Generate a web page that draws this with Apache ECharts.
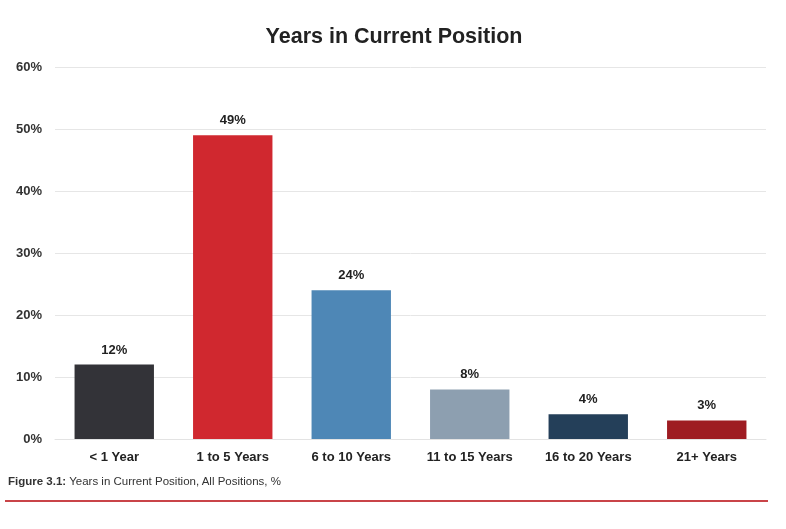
<!DOCTYPE html>
<html><head><meta charset="utf-8">
<script src="https://cdn.jsdelivr.net/npm/echarts@6/dist/echarts.min.js"></script>
<style>
html,body{margin:0;padding:0;background:#fff;}
#c{width:786px;height:529px;position:relative;}
#cap{position:absolute;left:8px;top:475px;font-family:"Liberation Sans",Arial,sans-serif;font-size:11.5px;color:#333;}
#rule{position:absolute;left:5px;top:500px;width:763px;height:2px;background:#c94448;}
</style></head>
<body>
<div id="c"></div>
<div id="cap"><b>Figure 3.1:</b> Years in Current Position, All Positions, %</div>
<div id="rule"></div>
<script>
const categories = ["< 1 Year","1 to 5 Years","6 to 10 Years","11 to 15 Years","16 to 20 Years","21+ Years"];
const values = [12,49,24,8,4,3];
const barColors = ["#333338","#d0282f","#4e87b6","#8d9fb0","#243f59","#9e1c22"];
const yTicks = [0,10,20,30,40,50,60];

const chart = echarts.init(document.getElementById('c'), null, {renderer:'canvas'});
chart.setOption({
  animation:false,
  title:{text:"Years in Current Position",left:389,textAlign:'center',top:21,
    textStyle:{fontFamily:"Liberation Sans, Arial, sans-serif",fontSize:21.5,fontWeight:'bold',color:'#222'}},
  grid:{left:55,right:20,top:67,bottom:90,containLabel:false},
  xAxis:{type:'category',data:categories,
    axisLine:{show:true,lineStyle:{color:'#e3e3e3',width:1}},
    axisTick:{show:false},
    axisLabel:{fontFamily:"Liberation Sans, Arial, sans-serif",fontSize:13,fontWeight:'bold',color:'#222',margin:12,interval:0}},
  yAxis:{type:'value',min:0,max:60,interval:10,
    axisLabel:{formatter:v=>v+'%',fontFamily:"Liberation Sans, Arial, sans-serif",fontSize:13,fontWeight:'bold',color:'#333',margin:13},
    axisLine:{show:false},axisTick:{show:false},
    splitLine:{lineStyle:{color:'#e6e6e6',width:1}}},
  series:[{type:'bar',barWidth:'67%',
    data:values.map((v,i)=>({value:v,itemStyle:{color:barColors[i]}})),
    label:{show:true,position:'top',distance:8,formatter:p=>p.value+'%',
      fontFamily:"Liberation Sans, Arial, sans-serif",fontSize:13,fontWeight:'bold',color:'#222'}}]
});
</script>
</body></html>
